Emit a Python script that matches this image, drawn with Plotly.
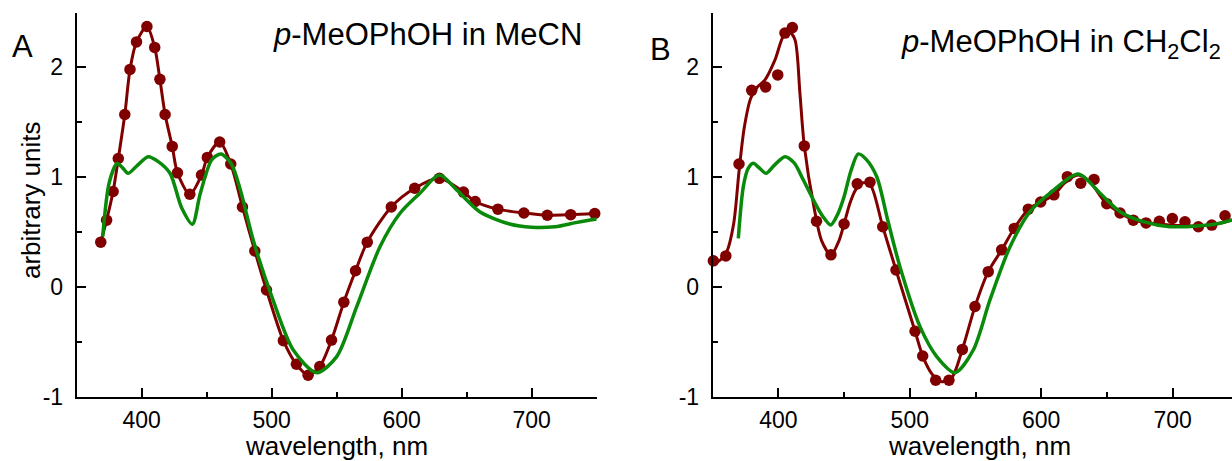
import plotly.graph_objects as go

# ---------------- data ----------------
# Panel A: p-MeOPhOH in MeCN — experimental points
wl_A = [368.5, 373, 378, 382, 387, 391, 396, 404, 410, 414, 418, 423.5, 427.5, 437, 446, 450.5,
        460, 468.5, 477.5, 487, 496, 509, 519, 528, 537, 546, 555.5, 564.5, 573.5, 592, 610, 629,
        647.5, 656.5, 674, 694, 712, 730, 748.5]
val_A = [0.41, 0.61, 0.87, 1.17, 1.57, 1.98, 2.23, 2.37, 2.18, 1.89, 1.57, 1.28, 1.04, 0.845, 1.02, 1.18,
         1.32, 1.12, 0.73, 0.33, -0.025, -0.485, -0.70, -0.80, -0.72, -0.48, -0.135, 0.15, 0.41, 0.73, 0.90, 0.99,
         0.865, 0.78, 0.71, 0.675, 0.655, 0.66, 0.67]

# Panel A: calculated spectrum (green)
calc_wl_A = [370, 375, 381, 385, 389.5, 396, 405, 413, 421.8, 430.8, 439, 445, 453.8, 461, 469, 476, 486,
             501, 516.6, 534.6, 550, 565.4, 583.3, 598.7, 614, 629, 642.3, 660, 683, 700, 718, 735, 750]
calc_val_A = [0.46, 0.95, 1.125, 1.09, 1.036, 1.10, 1.187, 1.14, 1.036, 0.72, 0.573, 0.85, 1.157, 1.212, 1.12,
              0.88, 0.42, -0.115, -0.57, -0.776, -0.63, -0.176, 0.369, 0.673, 0.855, 1.02, 0.885, 0.687,
              0.575, 0.545, 0.55, 0.59, 0.62]

# Panel B: p-MeOPhOH in CH2Cl2 — experimental points
wl_B = [350.5, 360, 370, 379.7, 390.3, 399.5, 405, 410.6, 419.7, 429, 440, 450, 460, 469.7, 479.4, 489.5,
        504, 509.8, 519.7, 529.8, 540, 549.6, 559.7, 569.9, 579.5, 590.2, 599.6, 609.7, 619.9, 630.1,
        640.2, 649.9, 660, 670.1, 679.8, 689.9, 699.8, 709.4, 719.6, 729.8, 739.9]
val_B = [0.24, 0.285, 1.12, 1.79, 1.82, 1.93, 2.31, 2.36, 1.285, 0.60, 0.295, 0.575, 0.94, 0.955, 0.55, 0.157,
         -0.40, -0.625, -0.845, -0.845, -0.565, -0.175, 0.142, 0.34, 0.535, 0.71, 0.775, 0.84, 1.005, 0.945,
         0.98, 0.76, 0.675, 0.61, 0.585, 0.60, 0.625, 0.595, 0.55, 0.565, 0.65]

# Panel B: smoothed experimental curve (dark red)
fit_wl_B = [350, 356, 360.6, 366, 370, 374, 379, 384, 389.8, 397.4, 403.7, 408.3, 412.6, 416.4, 419.7, 427,
            433, 440, 446, 450, 454.3, 459, 464.6, 470, 479.4, 489.5, 504, 510, 517, 524.3, 532, 540,
            549.6, 559.7, 569.9, 579.5, 590.2, 599.6, 609.7, 618, 628.2, 637, 647.3, 660, 672.7, 685,
            698, 718.3, 735, 745.2]
fit_val_B = [0.2, 0.25, 0.32, 0.58, 1.05, 1.45, 1.72, 1.82, 1.885, 2.066, 2.28, 2.32, 2.25, 1.76, 1.285, 0.733,
             0.42, 0.294, 0.42, 0.575, 0.76, 0.89, 0.95, 0.93, 0.551, 0.157, -0.40, -0.63, -0.79, -0.858,
             -0.82, -0.564, -0.176, 0.142, 0.339, 0.536, 0.709, 0.773, 0.84, 0.95, 1.02, 0.96, 0.794,
             0.673, 0.605, 0.58, 0.566, 0.557, 0.58, 0.612]

# Panel B: calculated spectrum (green)
calc_wl_B = [369.5, 373.3, 377, 380.9, 385, 390.6, 397, 405, 412, 419, 427.9, 434, 439.8, 445, 449.9, 455,
             460.8, 467, 475, 483, 492.5, 507.8, 520.5, 534.4, 548.3, 561, 576.3, 591.5, 606.7, 628.2,
             644.8, 660, 677.7, 698, 718.3, 735, 745.2]
calc_val_B = [0.445, 0.915, 1.08, 1.127, 1.09, 1.036, 1.11, 1.187, 1.13, 0.975, 0.764, 0.64, 0.566, 0.66,
              0.82, 1.05, 1.212, 1.16, 1.0, 0.62, 0.187, -0.358, -0.63, -0.776, -0.57, -0.115, 0.369, 0.687,
              0.855, 1.03, 0.855, 0.687, 0.597, 0.551, 0.557, 0.58, 0.612]

x_ticks = [400, 500, 600, 700]
x_tick_labels = ["400", "500", "600", "700"]
x_minor = [450, 550, 650]
y_ticks = [-1, 0, 1, 2]
y_tick_labels = ["-1", "0", "1", "2"]
y_minor = [-0.5, 0.5, 1.5]

panel_letters = ["A", "B"]
panel_titles = ["<i>p</i>-MeOPhOH in MeCN", "<i>p</i>-MeOPhOH in CH<sub>2</sub>Cl<sub>2</sub>"]
x_title = "wavelength, nm"
y_title = "arbitrary units"

# ---------------- styling ----------------
W, H = 1232, 461
RED = "#800000"
GREEN = "#0a8a0a"
FONT = "Liberation Sans, Arial, Helvetica, sans-serif"

def px_x(p):
    return p / W

def px_y(p):
    return 1 - p / H

y_top, y_bot = 13.3, 397.3
domA = [px_x(76.7), px_x(596.7)]
domB = [px_x(712.7), 1.0]

fig = go.Figure()

# Panel A
fig.add_trace(go.Scatter(x=wl_A, y=val_A, mode="lines+markers",
                         line=dict(color=RED, width=3, shape="spline", smoothing=0.8),
                         marker=dict(color=RED, size=11.5), cliponaxis=False,
                         xaxis="x", yaxis="y", showlegend=False))
fig.add_trace(go.Scatter(x=calc_wl_A, y=calc_val_A, mode="lines",
                         line=dict(color=GREEN, width=3.5, shape="spline", smoothing=0.8),
                         xaxis="x", yaxis="y", showlegend=False))

# Panel B
fig.add_trace(go.Scatter(x=fit_wl_B, y=fit_val_B, mode="lines",
                         line=dict(color=RED, width=3, shape="spline", smoothing=0.8),
                         xaxis="x2", yaxis="y2", showlegend=False))
fig.add_trace(go.Scatter(x=wl_B, y=val_B, mode="markers",
                         marker=dict(color=RED, size=11.5), cliponaxis=False,
                         xaxis="x2", yaxis="y2", showlegend=False))
fig.add_trace(go.Scatter(x=calc_wl_B, y=calc_val_B, mode="lines",
                         line=dict(color=GREEN, width=3.5, shape="spline", smoothing=0.8),
                         xaxis="x2", yaxis="y2", showlegend=False))

xax = dict(range=[350, 750], showline=True, linecolor="black", linewidth=2, mirror=False,
           showgrid=False, zeroline=False, ticks="inside", ticklen=9, tickwidth=1.5, tickcolor="black",
           tickvals=x_ticks, ticktext=x_tick_labels, ticklabelstandoff=1,
           tickfont=dict(size=23, color="black", family=FONT),
           minor=dict(tickvals=x_minor, ticks="inside", ticklen=5, tickwidth=1.5, tickcolor="black",
                      showgrid=False),
           automargin=False, fixedrange=True)
yax = dict(range=[-1, 2.49], showline=True, linecolor="black", linewidth=2,
           showgrid=False, zeroline=False, ticks="inside", ticklen=9, tickwidth=1.5, tickcolor="black",
           tickvals=y_ticks, ticktext=y_tick_labels, ticklabelstandoff=7,
           tickfont=dict(size=23, color="black", family=FONT),
           minor=dict(tickvals=y_minor, ticks="inside", ticklen=5, tickwidth=1.5, tickcolor="black",
                      showgrid=False),
           automargin=False, fixedrange=True, domain=[px_y(y_bot), px_y(y_top)])

fig.update_layout(
    width=W, height=H,
    margin=dict(l=0, r=0, t=0, b=0, pad=0),
    paper_bgcolor="white", plot_bgcolor="white",
    font=dict(family=FONT, color="black"),
    xaxis=dict(xax, domain=domA, anchor="y"),
    yaxis=dict(yax, anchor="x"),
    xaxis2=dict(xax, domain=domB, anchor="y2", range=[350, 350 + (1232 - 712.7) / 1.314]),
    yaxis2=dict(yax, anchor="x2"),
)

ann = []
ann.append(dict(text=panel_letters[0], x=px_x(10), y=px_y(47), xanchor="left", yanchor="middle",
                font=dict(size=31, family=FONT, color="black")))
ann.append(dict(text=panel_letters[1], x=px_x(648), y=px_y(50), xanchor="left", yanchor="middle",
                font=dict(size=31, family=FONT, color="black")))
ann.append(dict(text=panel_titles[0], x=px_x(271), y=px_y(34.5), xanchor="left", yanchor="middle",
                font=dict(size=31, family=FONT, color="black")))
ann.append(dict(text=panel_titles[1], x=px_x(899), y=px_y(44), xanchor="left", yanchor="middle",
                font=dict(size=31, family=FONT, color="black")))
ann.append(dict(text=y_title, x=px_x(31), y=px_y(200), xanchor="center", yanchor="middle",
                textangle=-90, font=dict(size=26, family=FONT, color="black")))
ann.append(dict(text=x_title, x=px_x(336.7), y=px_y(445.5), xanchor="center", yanchor="middle",
                font=dict(size=26, family=FONT, color="black")))
ann.append(dict(text=x_title, x=px_x(979.7), y=px_y(445.5), xanchor="center", yanchor="middle",
                font=dict(size=26, family=FONT, color="black")))
for a in ann:
    a.update(xref="paper", yref="paper", showarrow=False)
fig.update_layout(annotations=ann)

fig.write_html("out.html", config={"displayModeBar": False})
